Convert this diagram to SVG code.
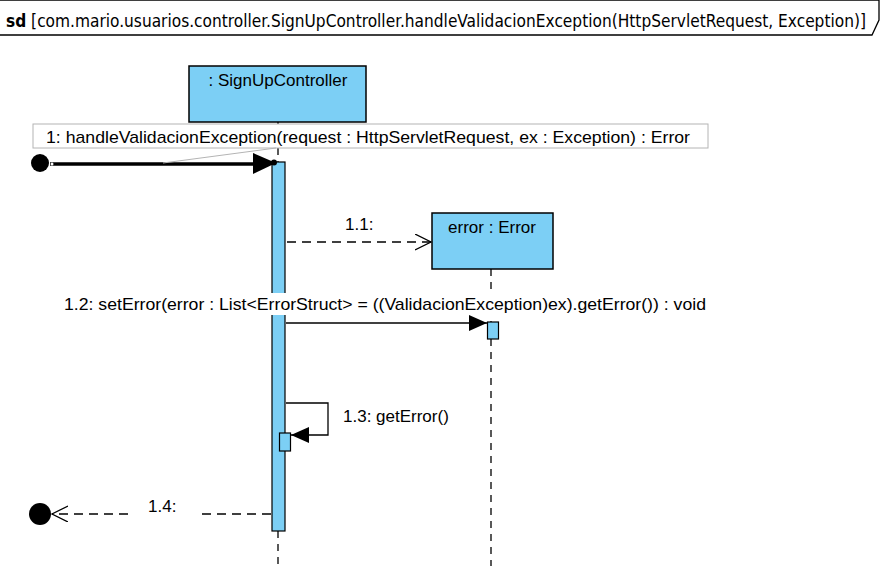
<svg xmlns="http://www.w3.org/2000/svg" width="888" height="571" viewBox="0 0 888 571">
<defs>
<style>
.lbl{font-family:"Liberation Sans",Arial,sans-serif;font-size:17px;fill:#000}
.box{fill:#7ccff5;stroke:#000;stroke-width:1.5}
.act{fill:#7ccff5;stroke:#000;stroke-width:1.2}
.life{stroke:#000;stroke-width:1.3;stroke-dasharray:7,6;fill:none}
.dash{stroke:#000;stroke-width:1.3;stroke-dasharray:9,6;fill:none}
.solid{stroke:#000;stroke-width:1.3;fill:none}
</style>
<marker id="open" markerWidth="20" markerHeight="20" refX="16" refY="8" orient="auto" markerUnits="userSpaceOnUse">
<path d="M0,0 L16,8 L0,16" fill="none" stroke="#000" stroke-width="1.3"/>
</marker>
<marker id="fill" markerWidth="22" markerHeight="20" refX="18" refY="8" orient="auto" markerUnits="userSpaceOnUse">
<path d="M0,0 L18,8 L0,16 Z" fill="#000"/>
</marker>
</defs>
<rect width="888" height="571" fill="#fff"/>
<g id="frame">
<path d="M0,0 L879,0 L879,20 L872,35 L0,35" fill="none" stroke="#000" stroke-width="1.3"/>
<text x="6" y="27" font-family="'DejaVu Sans Condensed','DejaVu Sans',sans-serif" font-size="17" textLength="860" lengthAdjust="spacingAndGlyphs"><tspan font-weight="bold">sd</tspan> [com.mario.usuarios.controller.SignUpController.handleValidacionException(HttpServletRequest, Exception)]</text>
</g>
<g id="signup">
<rect class="box" x="189" y="66" width="177" height="56"/>
<text class="lbl" x="278" y="86" text-anchor="middle">: SignUpController</text>
<line class="life" x1="278" y1="122" x2="278" y2="162"/>
<line class="life" x1="278" y1="531" x2="278" y2="566"/>
<rect class="act" x="272" y="162" width="13" height="369"/>
<rect class="act" x="279.5" y="433" width="11" height="18"/>
</g>
<g id="error">
<rect class="box" x="432" y="213" width="121" height="56"/>
<text class="lbl" x="492" y="233" text-anchor="middle">error : Error</text>
<line class="life" x1="491" y1="269" x2="491" y2="322"/>
<line class="life" x1="491" y1="339" x2="491" y2="566"/>
<rect class="act" x="487.5" y="322" width="11" height="17"/>
</g>
<g id="found">
<circle cx="40" cy="163" r="9" fill="#000"/>
</g>
<g id="final">
<circle cx="40" cy="514" r="11" fill="#000"/>
</g>
<g id="connectors">
<rect x="33" y="124" width="675" height="24" fill="#fff" stroke="#b4b4b4" stroke-width="1"/>
<text class="lbl" x="46" y="143" textLength="644" lengthAdjust="spacingAndGlyphs">1: handleValidacionException(request : HttpServletRequest, ex : Exception) : Error</text>
<line x1="50" y1="164" x2="255" y2="164" stroke="#000" stroke-width="3.5"/>
<path d="M253,153 L276,163 L253,174 Z" fill="#000"/>
<circle cx="274" cy="162.5" r="3" fill="#000"/>
<circle cx="52" cy="164" r="1.5" fill="#fff"/>
<line x1="163" y1="163" x2="276" y2="148" stroke="#b4b4b4" stroke-width="1"/>

<line class="dash" x1="287" y1="242" x2="431" y2="242" marker-end="url(#open)"/>
<text class="lbl" x="345" y="230">1.1:</text>

<rect x="60" y="293" width="650" height="22" fill="#fff"/>
<text class="lbl" x="64" y="310" textLength="642" lengthAdjust="spacingAndGlyphs">1.2: setError(error : List&lt;ErrorStruct&gt; = ((ValidacionException)ex).getError()) : void</text>
<line class="solid" x1="286" y1="323" x2="487" y2="323" marker-end="url(#fill)"/>

<polyline class="solid" points="286,403 328,403 328,435 291,435" marker-end="url(#fill)"/>
<text class="lbl" x="343" y="422">1.3: getError()</text>

<line class="dash" x1="271" y1="514" x2="196" y2="514"/>
<line class="dash" x1="128" y1="514" x2="52" y2="514" marker-end="url(#open)"/>
<text class="lbl" x="148" y="512">1.4:</text>
</g>
</svg>
